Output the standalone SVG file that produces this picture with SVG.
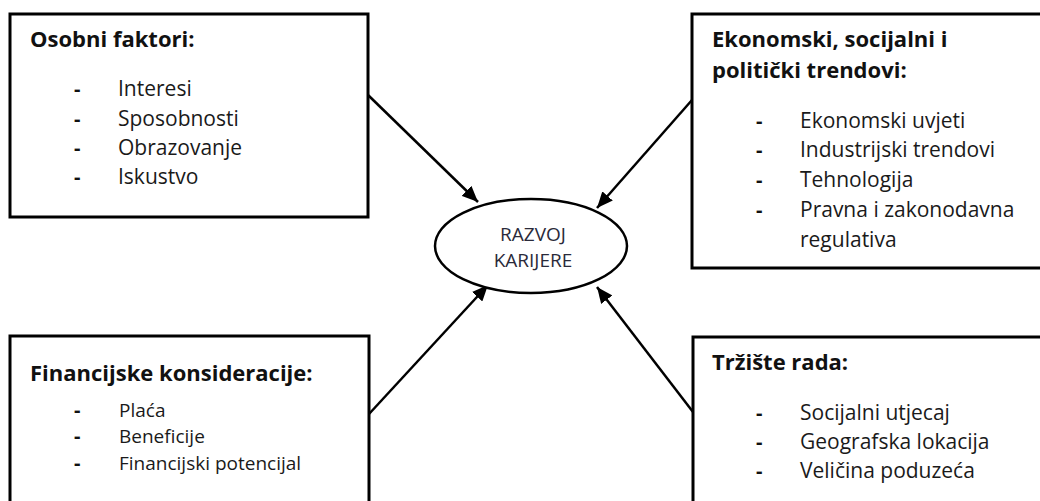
<svg xmlns="http://www.w3.org/2000/svg" width="1040" height="501" viewBox="0 0 1040 501">
<style>
.box{fill:#fff;stroke:#000;stroke-width:3}
.t{font-family:"Open Sans","Liberation Sans",sans-serif;font-weight:bold;font-size:22px;fill:#111}
.i{font-family:"Open Sans","Liberation Sans",sans-serif;font-size:21px;fill:#1a1a1a}
.s{font-family:"Open Sans","Liberation Sans",sans-serif;font-size:19px;fill:#1a1a1a}
.d{font-family:"Open Sans","Liberation Sans",sans-serif;font-weight:bold;font-size:20px;fill:#111}
.c{font-family:"Open Sans","Liberation Sans",sans-serif;font-size:19px;fill:#2a2a3a;text-anchor:middle}
.ar{stroke:#000;stroke-width:2.5;fill:none;marker-end:url(#ah)}
</style>
<defs>
<marker id="ah" markerUnits="userSpaceOnUse" markerWidth="18" markerHeight="14" refX="16" refY="7" orient="auto">
<path d="M0,0 L16,7 L0,14 z" fill="#000"/>
</marker>
</defs>
<rect width="1040" height="501" fill="#fff"/>
<g id="connectors">
<line class="ar" x1="368" y1="95" x2="478" y2="202"/>
<line class="ar" x1="692" y1="100" x2="597" y2="208"/>
<line class="ar" x1="369" y1="414" x2="488" y2="285"/>
<line class="ar" x1="693" y1="412" x2="597" y2="287"/>
</g>
<g id="osobni">
<rect class="box" x="10" y="14" width="358" height="203"/>
<text class="t" x="30" y="47">Osobni faktori:</text>
<text class="d" x="74" y="96">-</text><text class="i" x="118" y="96">Interesi</text>
<text class="d" x="74" y="126">-</text><text class="i" x="118" y="126">Sposobnosti</text>
<text class="d" x="74" y="155">-</text><text class="i" x="118" y="155">Obrazovanje</text>
<text class="d" x="74" y="184">-</text><text class="i" x="118" y="184">Iskustvo</text>
</g>
<g id="ekonomski">
<rect class="box" x="692" y="14" width="360" height="254"/>
<text class="t" x="712" y="47">Ekonomski, socijalni i</text>
<text class="t" x="712" y="78">politički trendovi:</text>
<text class="d" x="756" y="128">-</text><text class="i" x="800" y="128">Ekonomski uvjeti</text>
<text class="d" x="756" y="157">-</text><text class="i" x="800" y="157">Industrijski trendovi</text>
<text class="d" x="756" y="187">-</text><text class="i" x="800" y="187">Tehnologija</text>
<text class="d" x="756" y="217">-</text><text class="i" x="800" y="217">Pravna i zakonodavna</text>
<text class="i" x="800" y="247">regulativa</text>
</g>
<g id="financijske">
<rect class="box" x="10" y="336" width="359" height="180"/>
<text class="t" x="30" y="381">Financijske konsideracije:</text>
<text class="d" x="74" y="417">-</text><text class="s" x="119" y="417">Plaća</text>
<text class="d" x="74" y="443">-</text><text class="s" x="119" y="443">Beneficije</text>
<text class="d" x="74" y="470">-</text><text class="s" x="119" y="470">Financijski potencijal</text>
</g>
<g id="trziste">
<rect class="box" x="693" y="337" width="360" height="180"/>
<text class="t" x="712" y="370">Tržište rada:</text>
<text class="d" x="756" y="420">-</text><text class="i" x="800" y="420">Socijalni utjecaj</text>
<text class="d" x="756" y="449">-</text><text class="i" x="800" y="449">Geografska lokacija</text>
<text class="d" x="756" y="478">-</text><text class="i" x="800" y="478">Veličina poduzeća</text>
</g>
<g id="razvoj">
<ellipse cx="531" cy="246" rx="96" ry="47" fill="#fff" stroke="#000" stroke-width="2.5"/>
<text class="c" x="533" y="241">RAZVOJ</text>
<text class="c" x="533" y="267">KARIJERE</text>
</g>
</svg>
